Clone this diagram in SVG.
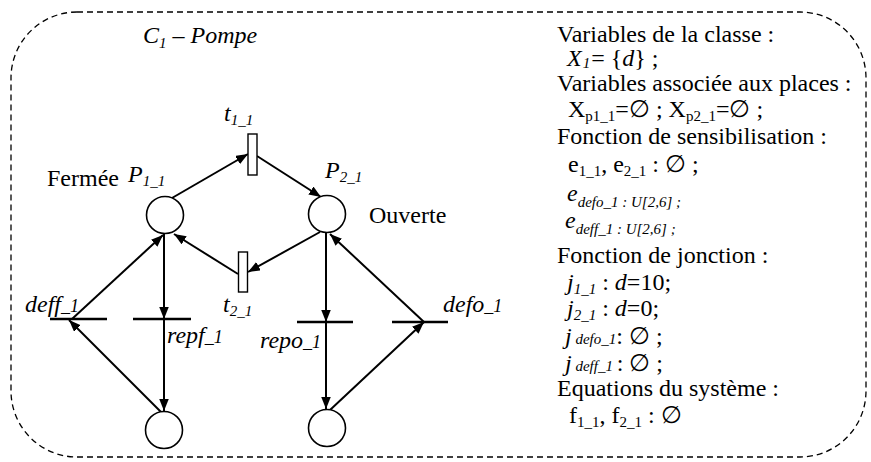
<svg xmlns="http://www.w3.org/2000/svg" width="871" height="462" viewBox="0 0 871 462">
<style>
text{font-family:"Liberation Serif","Times New Roman",Tinos,"DejaVu Serif",serif;font-size:24px;fill:#000}
.it{font-style:italic}
.sub{font-size:15px}
.place{fill:#fff;stroke:#000;stroke-width:1.6}
.trans{fill:#fff;stroke:#000;stroke-width:1.4}
.bar{stroke:#000;stroke-width:2.5}
.arc{stroke:#000;stroke-width:2;fill:none;marker-end:url(#ah)}
.frame{fill:none;stroke:#000;stroke-width:1.3;stroke-dasharray:6 4}
</style>
<defs>
<marker id="ah" markerUnits="userSpaceOnUse" markerWidth="14" markerHeight="10" refX="12" refY="4.75" orient="auto">
<path d="M0,0 L12,4.75 L0,9.5 z" fill="#000"/>
</marker>
</defs>
<rect class="frame" x="11" y="12" width="855" height="445" rx="66" ry="66"/>
<text id="title" class="it" x="143" y="43" font-size="24.5">C<tspan class="sub" dy="5">1</tspan><tspan dy="-5"> – Pompe</tspan></text>
<g id="connectors">
<line class="arc" x1="172" y1="198" x2="248" y2="154"/>
<line class="arc" x1="257" y1="156" x2="321" y2="197"/>
<line class="arc" x1="320" y1="232" x2="248" y2="272"/>
<line class="arc" x1="238" y1="274" x2="174" y2="234"/>
<line class="arc" x1="72" y1="319" x2="163" y2="235"/>
<line class="arc" x1="164" y1="234" x2="164" y2="319"/>
<line class="arc" x1="164" y1="319" x2="164" y2="411"/>
<line class="arc" x1="161" y1="412" x2="69" y2="320"/>
<line class="arc" x1="326" y1="233" x2="326" y2="322"/>
<line class="arc" x1="326" y1="322" x2="326" y2="409"/>
<line class="arc" x1="330" y1="410" x2="424" y2="322"/>
<line class="arc" x1="424" y1="322" x2="330" y2="234"/>
</g>
<g id="P1_1">
<circle class="place" cx="165" cy="215" r="18.5"/>
<text class="it" x="128" y="182">P<tspan class="sub" dy="4">1_1</tspan></text>
<text x="47" y="186">Fermée</text>
</g>
<g id="P2_1">
<circle class="place" cx="327" cy="214" r="18.5"/>
<text class="it" x="325" y="178">P<tspan class="sub" dy="4">2_1</tspan></text>
<text x="369" y="223">Ouverte</text>
</g>
<g id="P3">
<circle class="place" cx="164" cy="430" r="18.5"/>
</g>
<g id="P4">
<circle class="place" cx="327" cy="428" r="18.5"/>
</g>
<g id="t1_1">
<rect class="trans" x="248" y="134" width="9" height="41"/>
<text class="it" x="224" y="121">t<tspan class="sub" dy="4">1_1</tspan></text>
</g>
<g id="t2_1">
<rect class="trans" x="238.5" y="252" width="9" height="40"/>
<text class="it" x="223" y="312">t<tspan class="sub" dy="4">2_1</tspan></text>
</g>
<g id="deff_1">
<line class="bar" x1="50" y1="319" x2="107" y2="319"/>
<text class="it" x="25" y="312">deff<tspan font-size="18">_1</tspan></text>
</g>
<g id="repf_1">
<line class="bar" x1="133" y1="319" x2="191" y2="319"/>
<text class="it" x="167" y="343">repf<tspan font-size="18">_1</tspan></text>
</g>
<g id="repo_1">
<line class="bar" x1="297" y1="322" x2="353" y2="322"/>
<text class="it" x="260" y="348">repo<tspan font-size="18">_1</tspan></text>
</g>
<g id="defo_1">
<line class="bar" x1="392" y1="322" x2="448" y2="322"/>
<text class="it" x="443" y="312">defo<tspan font-size="18">_1</tspan></text>
</g>
<g id="info">
<text x="557" y="42">Variables de la classe :</text>
<text x="567" y="66"><tspan class="it">X</tspan><tspan class="it sub" dy="2" dx="1">1</tspan><tspan dy="-2" dx="1">= {</tspan><tspan class="it">d</tspan>} ;</text>
<text x="557" y="91">Variables associée aux places :</text>
<text x="568" y="117">X<tspan class="sub" dy="4">p1_1</tspan><tspan dy="-4">=∅ ; X</tspan><tspan class="sub" dy="4">p2_1</tspan><tspan dy="-4">=∅ ;</tspan></text>
<text x="557" y="144">Fonction de sensibilisation :</text>
<text x="568" y="172">e<tspan class="sub" dy="4">1_1</tspan><tspan dy="-4">, e</tspan><tspan class="sub" dy="4">2_1</tspan><tspan dy="-4"> : ∅  ;</tspan></text>
<text x="567" y="201"><tspan class="it">e</tspan><tspan class="it sub" dy="6">defo_1 : U[2,6] ;</tspan></text>
<text x="565" y="228"><tspan class="it">e</tspan><tspan class="it sub" dy="6">deff_1 : U[2,6] ;</tspan></text>
<text x="557" y="263">Fonction de jonction :</text>
<text x="567" y="290"><tspan class="it">j</tspan><tspan class="it sub" dy="4">1_1</tspan><tspan dy="-4"> : </tspan><tspan class="it">d</tspan>=10;</text>
<text x="567" y="316"><tspan class="it">j</tspan><tspan class="it sub" dy="4">2_1</tspan><tspan dy="-4"> : </tspan><tspan class="it">d</tspan>=0;</text>
<text x="565" y="344"><tspan class="it">j</tspan><tspan class="it sub"> defo_1</tspan>: ∅ ;</text>
<text x="565" y="371"><tspan class="it">j</tspan><tspan class="it sub"> deff_1 </tspan>: ∅ ;</text>
<text x="557" y="396">Equations du système :</text>
<text x="569" y="423">f<tspan class="sub" dy="4">1_1</tspan><tspan dy="-4">, f</tspan><tspan class="sub" dy="4">2_1</tspan><tspan dy="-4"> : ∅</tspan></text>
</g>
</svg>
